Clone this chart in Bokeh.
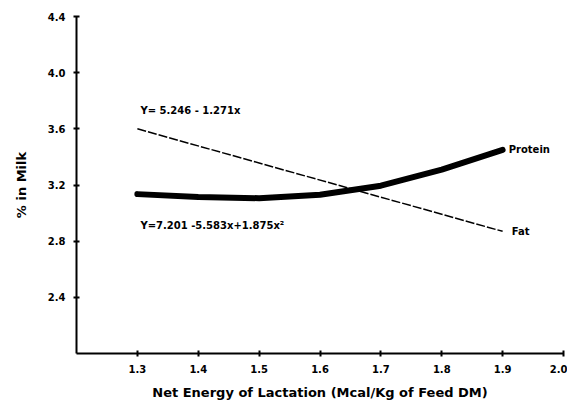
from bokeh.plotting import figure
from bokeh.models import FixedTicker, Range1d, NumeralTickFormatter
from bokeh.core.properties import value
from bokeh.embed import file_html
from bokeh.resources import INLINE

# Data
x_protein = [1.3, 1.4, 1.5, 1.6, 1.7, 1.8, 1.9]
y_protein = [3.135, 3.114, 3.106, 3.13, 3.195, 3.31, 3.45]
x_fat = [1.3, 1.9]
y_fat = [3.60, 2.87]
x_ticks = [1.3, 1.4, 1.5, 1.6, 1.7, 1.8, 1.9, 2.0]
y_ticks = [2.4, 2.8, 3.2, 3.6, 4.0, 4.4]
fat_eq = "Y= 5.246 - 1.271x"
protein_eq = "Y=7.201 -5.583x+1.875x\u00b2"

FONT = "DejaVu Sans"

p = figure(width=567, height=402, output_backend="svg", toolbar_location=None,
           x_range=Range1d(1.2, 2.0), y_range=Range1d(2.0, 4.4),
           min_border_left=76, min_border_right=4, min_border_top=16, min_border_bottom=49)
p.outline_line_color = None
p.grid.visible = False
p.background_fill_color = "white"

for ax in (p.xaxis[0], p.yaxis[0]):
    ax.axis_line_color = "black"
    ax.axis_line_width = 2
    ax.major_tick_line_color = "black"
    ax.major_tick_line_width = 2
    ax.major_tick_in = 3
    ax.major_tick_out = 3
    ax.minor_tick_line_color = None
    ax.major_label_text_font = FONT
    ax.major_label_text_font_style = "bold"
    ax.major_label_text_font_size = "10px"
    ax.major_label_text_color = "black"
    ax.axis_label_text_font = FONT
    ax.axis_label_text_font_style = "bold"
    ax.axis_label_text_font_size = "13px"
    ax.axis_label_text_color = "black"
    ax.formatter = NumeralTickFormatter(format="0.0")

p.xaxis.ticker = FixedTicker(ticks=x_ticks)
p.yaxis.ticker = FixedTicker(ticks=y_ticks)
p.xaxis.axis_label = "Net Energy of Lactation (Mcal/Kg of Feed DM)"
p.yaxis.axis_label = "% in Milk"
p.xaxis.major_label_standoff = 8
p.xaxis.axis_label_standoff = 9
p.yaxis.major_label_standoff = 8
p.yaxis.axis_label_standoff = 16

p.line(x_fat, y_fat, line_color="black", line_width=1.5, line_dash="9 2")
p.line(x_protein, y_protein, line_color="black", line_width=6, line_cap="round", line_join="round")

common = dict(text_font=value(FONT), text_font_style="bold", text_font_size="10px",
              text_baseline="middle", text_align="left", text_color="black")
p.text(x=[1.305], y=[3.73], text=[fat_eq], **common)
p.text(x=[1.305], y=[2.91], text=[protein_eq], **common)
p.text(x=[1.91], y=[3.455], text=["Protein"], **common)
p.text(x=[1.915], y=[2.87], text=["Fat"], **common)

open("out.html", "w").write(file_html(p, INLINE))
